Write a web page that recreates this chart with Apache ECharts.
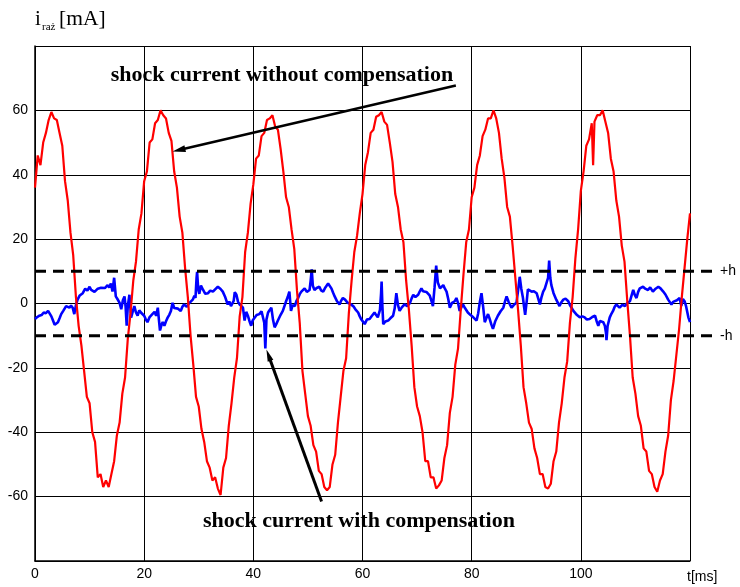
<!DOCTYPE html>
<html>
<head>
<meta charset="utf-8">
<script src="https://cdn.jsdelivr.net/npm/echarts@6/dist/echarts.min.js"></script>
<style>
html,body{margin:0;padding:0;background:#fff;}
#chart{width:740px;height:587px;}
</style>
</head>
<body>
<div id="chart"></div>
<script>
// ---- data (t in ms, current in mA) ----
const xTicks = [0, 20, 40, 60, 80, 100];
const yTicks = [-60, -40, -20, 0, 20, 40, 60];
const thresholds = [10, -10];
const thresholdLabels = ['+h', '-h'];

const redCurrent = [
[0,36],[0.5,46],[1,43],[1.5,50],[2,53],[2.5,57],[3,59.5],[3.5,57.5],[4,57],[4.5,53],[5,49],[5.5,38],[6,32],[6.5,22],[7,15],[7.5,2],[8,-7],[8.5,-13],[9,-21],[9.5,-29],
[10,-31],[10.5,-40],[11,-43],[11.5,-54],[12,-53],[12.5,-57],[13,-55],[13.5,-57],[14,-53],[14.5,-49],[15,-41],[15.5,-37],[16,-28],[16.5,-23],[17,-11],[17.5,-3],[18,7],[18.5,13],[19,23],[19.5,28],
[20,38],[20.5,41],[21,50],[21.5,51],[22,56],[22.5,57],[23,60],[23.5,58.5],[24,57.5],[24.5,53],[25,50.5],[25.5,41],[26,36],[26.5,27],[27,22],[27.5,11],[28,2],[28.5,-10],[29,-19],[29.5,-29],
[30,-32],[30.5,-39],[31,-43],[31.5,-49],[32,-51],[32.5,-55],[33,-54],[33.5,-57.5],[34,-59.5],[34.5,-51],[35,-48],[35.5,-38],[36,-31],[36.5,-23],[37,-17],[37.5,-4],[38,2],[38.5,16],[39,22],[39.5,31],
[40,37],[40.5,45],[41,46],[41.5,52],[42,53],[42.5,57],[43,57.5],[43.5,58.5],[44,55],[44.5,54],[45,48],[45.5,41],[46,33],[46.5,30],[47,23],[47.5,17],[48,4],[48.5,-6],[49,-21],[49.5,-28],
[50,-35],[50.5,-38],[51,-44],[51.5,-46],[52,-52],[52.5,-53],[53,-57],[53.5,-58],[54,-57],[54.5,-50],[55,-47],[55.5,-37],[56,-29],[56.5,-21],[57,-17],[57.5,-3],[58,7],[58.5,16],[59,21],[59.5,28],
[60,34],[60.5,43],[61,47],[61.5,53],[62,54],[62.5,58],[63,58.5],[63.5,59.5],[64,56.5],[64.5,55.5],[65,50],[65.5,44],[66,34],[66.5,30],[67,23],[67.5,19],[68,7],[68.5,-2],[69,-13],[69.5,-26],
[70,-32],[70.5,-35],[71,-40],[71.5,-49],[72,-49],[72.5,-54],[73,-54],[73.5,-57.5],[74,-56.5],[74.5,-55],[75,-48],[75.5,-44],[76,-34],[76.5,-29],[77,-19],[77.5,-14],[78,-2],[78.5,9],[79,19],[79.5,23],
[80,33],[80.5,36],[81,43],[81.5,46],[82,52],[82.5,54],[83,57.5],[83.5,57.5],[84,60],[84.5,57.5],[85,53],[85.5,45],[86,39],[86.5,30],[87,27],[87.5,18],[88,8],[88.5,-2],[89,-13],[89.5,-26],
[90,-31],[90.5,-37],[91,-39],[91.5,-45],[92,-48],[92.5,-53],[93,-53],[93.5,-57],[94,-57.5],[94.5,-56],[95,-49],[95.5,-46],[96,-37],[96.5,-31],[97,-23],[97.5,-18],[98,-6],[98.5,2],[99,14],[99.5,23],
[100,35],[100.5,41],[101,49],[101.5,51],[102,56],[102.25,43],[102.5,56.5],[103,58.5],[103.5,58.5],[104,60],[104.5,56.5],[105,53],[105.5,45],[106,41],[106.5,32],[107,27],[107.5,18],[108,13],[108.5,1],[109,-10],[109.5,-23],
[110,-28],[110.5,-35],[111,-38],[111.5,-45],[112,-46],[112.5,-52],[113,-53],[113.5,-57],[114,-58.5],[114.5,-55],[115,-53],[115.5,-46],[116,-41],[116.5,-30],[117,-24],[117.5,-16],[118,-8],[118.5,2],[119,11],[119.5,20],
[120,28]
];

const blueCurrent = [
[0,-4.8],[0.4,-4.2],[0.8,-3.8],[1.2,-3.6],[1.6,-2.8],[2,-3],[2.4,-2.3],[2.7,-2.8],[3.0,-4.0],[3.3,-5.3],[3.6,-6.6],[3.9,-6.0],[4.2,-5.8],[4.5,-4.6],[4.8,-3.3],[5.2,-2.2],[5.7,-0.8],[6.0,-0.2],[6.3,-1.3],[6.6,-0.6],
[6.9,-1.3],[7.2,-3.3],[7.5,-0.5],[7.8,1.2],[8.2,2.5],[8.75,3.2],[9.2,4.6],[9.6,4.0],[10,5.2],[10.3,4.2],[10.6,4.7],[10.9,3.6],[11.2,3.7],[11.5,4.6],[11.8,4.2],[12.1,4.9],[12.4,5.2],[12.8,4.8],[13.3,5.7],[13.6,5.0],
[13.9,6.2],[14.2,3.7],[14.5,8],[14.8,2.2],[15.1,1.4],[15.5,0.2],[15.8,-1.8],[16.1,1.0],[16.4,2.2],[16.6,-1],[16.8,-6.9],[17.0,-0.8],[17.3,2.7],[17.6,-4.4],[17.9,-2.5],[18.2,-0.8],[18.5,-2.8],[18.8,-3.8],[19.1,-2.1],[19.4,-2.8],
[19.7,-3.1],[20,-3.8],[20.3,-4.9],[20.6,-5.8],[21.0,-4.2],[21.5,-3.3],[21.9,-2.6],[22.2,-3.8],[22.5,-1.3],[22.7,-5],[22.9,-8.4],[23.2,-6.5],[23.4,-5.8],[23.7,-6.9],[24.0,-5.5],[24.3,-4.4],[24.6,-3.5],[24.9,-2.3],[25.2,0.2],[25.5,-1.4],
[25.8,-0.8],[26.2,-1.6],[26.7,-2.3],[27.0,-1.0],[27.3,-0.3],[27.8,-1.0],[28.3,0.2],[28.6,0.8],[28.9,1.2],[29.2,2.4],[29.4,1.7],[29.6,8],[29.7,9.8],[29.9,4.5],[30.1,3],[30.4,5.6],[30.8,4.2],[31.2,3.0],[31.7,3.2],[32.1,4.0],
[32.6,3.7],[33.0,4.4],[33.5,5.2],[34.0,4.5],[34.4,3.7],[34.8,2.2],[35.3,-0.3],[35.6,0.6],[35.9,-0.8],[36.4,0.8],[36.6,3.5],[36.9,2.7],[37.2,0.5],[37.5,-0.3],[37.8,-0.6],[38.1,-1.3],[38.4,-5.3],[38.7,-2.6],[39,-3.8],[39.3,-5.5],
[39.6,-6.9],[39.9,-5.2],[40.2,-4.8],[40.6,-3.6],[41.1,-3.3],[41.5,-2.4],[41.8,-1.8],[42.0,-6],[42.2,-14],[42.4,-5],[42.7,-2.8],[43.0,-2.0],[43.3,-1.3],[43.6,-5],[43.9,-7.4],[44.2,-6.4],[44.5,-5.3],[45.0,-3.5],[45.4,-2.3],[45.7,-0.8],
[46,0.7],[46.3,2.0],[46.6,3.7],[46.9,-2.3],[47.2,-0.5],[47.6,-0.8],[47.9,0.8],[48.2,1.7],[48.5,2.9],[48.8,3.7],[49.1,4.2],[49.4,4.7],[49.8,3.6],[50.3,4.2],[50.5,7],[50.7,10.6],[50.9,5.5],[51.2,4.2],[51.6,4.8],[52.1,5.2],
[52.4,4.1],[52.8,3.7],[53.2,5.0],[53.7,6.2],[54.0,5.6],[54.3,4.7],[54.6,3.4],[54.9,2.2],[55.3,0.8],[55.8,-0.3],[56.1,0.9],[56.4,1.7],[56.8,1.2],[57.3,0.2],[57.8,-0.2],[58.3,-0.8],[58.7,-1.8],[59.2,-2.8],[59.5,-4.0],[59.8,-5],
[60.1,-5.5],[60.4,-6.4],[60.8,-5.0],[61.3,-4.8],[61.7,-3.9],[62.2,-2.8],[62.5,-3.6],[62.8,-4.3],[63.2,-2.0],[63.4,3],[63.5,6.8],[63.65,-1],[63.8,-6.4],[64.2,-5.6],[64.7,-5.3],[65.1,-4.6],[65.6,-3.8],[65.9,-1.5],[66.2,3.2],[66.5,-0.5],
[66.8,-2.3],[67.2,-1.2],[67.7,-0.3],[68.2,-0.8],[68.7,0.2],[69.0,1.6],[69.3,2.7],[69.7,2.0],[70.2,2.7],[70.5,3.8],[70.8,4.7],[71.1,3.8],[71.4,3.2],[71.7,3.6],[72,4.2],[72.3,2.5],[72.6,1.0],[72.9,-0.8],[73.2,5],[73.5,11.8],
[73.8,6.5],[74.2,4.7],[74.5,5.2],[74.8,5.7],[75.1,4.6],[75.4,3.7],[75.7,1.5],[76,-1.3],[76.4,0.2],[76.9,0.7],[77.2,1.7],[77.5,0.2],[77.8,-2.3],[78.1,-1.2],[78.4,-0.3],[78.8,-1.5],[79.3,-2.8],[79.8,-3.6],[80.3,-4.3],[80.6,-4.8],
[80.9,-5.3],[81.2,-3],[81.5,0.5],[81.8,3.2],[82.1,-1],[82.4,-5.8],[82.7,-4.5],[83,-3.3],[83.3,-4.8],[83.6,-6.5],[83.9,-7.9],[84.3,-5.6],[84.8,-3.8],[85.3,-2.4],[85.8,-1.3],[86.1,0.6],[86.4,2.2],[86.8,0.4],[87.3,-1.3],[87.7,-0.5],
[88.2,0.2],[88.5,4],[88.8,8.3],[89.1,4.5],[89.4,1.7],[89.6,-1],[89.8,-3.5],[90.1,1],[90.3,4.4],[90.6,4.0],[91,3.7],[91.4,3.8],[91.9,3.2],[92.2,1.5],[92.5,-0.3],[92.8,2],[93.1,3.7],[93.4,4.6],[93.7,5.2],[94.0,8],
[94.2,13.3],[94.4,8],[94.6,5.7],[95.0,3.2],[95.5,1.2],[95.8,0.2],[96.1,-0.8],[96.4,0.3],[96.8,1.2],[97.2,1.5],[97.7,0.7],[98.0,-0.5],[98.3,-1.3],[98.6,-2.2],[98.9,-2.8],[99.3,-3.6],[99.8,-4.3],[100.3,-4.0],[100.7,-4.3],[101.1,-5.0],
[101.6,-4.8],[102.1,-4.2],[102.6,-3.8],[102.9,-5.5],[103.2,-6.9],[103.5,-5.4],[103.8,-4.8],[104.1,-5.8],[104.4,-6.9],[104.6,-9],[104.7,-11.4],[104.9,-7],[105.3,-4.3],[105.6,-3.2],[105.9,-2.3],[106.2,-1.0],[106.5,-0.3],[106.8,-0.6],[107.1,-1.3],[107.6,-0.4],
[108.1,-0.8],[108.5,0.2],[109,0.7],[109.3,2.5],[109.6,4.2],[109.9,2.6],[110.2,1.7],[110.5,3.6],[110.8,4.7],[111.1,4.5],[111.4,5.2],[111.8,4.6],[112.3,4.2],[112.7,5.0],[113.2,3.7],[113.7,4.6],[114.2,5.2],[114.6,4.7],[115.1,3.7],[115.5,2.8],
[116,1.2],[116.3,0.6],[116.6,-0.3],[116.9,0.5],[117.2,0.2],[117.6,1.0],[118.1,1.7],[118.4,-0.8],[118.7,1.4],[119,0.7],[119.3,-1.0],[119.7,-4.3],[120,-5.8]
];

// annotation arrows: [fromT, fromI] -> [toT, toI] in data units
const arrowWithout = [[77.1, 67.7], [25.2, 47.2]];
const arrowWith = [[52.5, -61.5], [42.4, -14.3]];

const chart = echarts.init(document.getElementById('chart'), null, {renderer: 'canvas'});
const axisFont = {fontFamily: 'Liberation Sans, Arial, sans-serif', fontSize: 14, color: '#000'};

chart.setOption({
  animation: false,
  backgroundColor: '#fff',
  grid: {left: 35, right: 50, top: 46, bottom: 26, containLabel: false, outerBoundsMode: 'none'},
  xAxis: {
    type: 'value', min: 0, max: 120, interval: 20,
    axisLine: {show: true, onZero: false, lineStyle: {color: '#000', width: 1.5}},
    axisTick: {show: false},
    splitLine: {show: true, lineStyle: {color: '#000', width: 1}},
    axisLabel: Object.assign({margin: 6, formatter: v => xTicks.includes(v) ? String(v) : ''}, axisFont)
  },
  yAxis: {
    type: 'value', min: -80, max: 80, interval: 20,
    axisLine: {show: true, onZero: false, lineStyle: {color: '#000', width: 1.5}},
    axisTick: {show: false},
    splitLine: {show: true, lineStyle: {color: '#000', width: 1}},
    axisLabel: Object.assign({margin: 7, formatter: v => yTicks.includes(v) ? String(v) : ''}, axisFont)
  },
  series: [
    {type: 'line', name: 'with compensation', data: blueCurrent, showSymbol: false, symbol: 'none',
     lineStyle: {color: '#0000ff', width: 2.6}, z: 3},
    {type: 'line', name: 'without compensation', data: redCurrent, showSymbol: false, symbol: 'none',
     lineStyle: {color: '#ff0000', width: 2.2}, z: 4}
  ]
});

function px(p) { return chart.convertToPixel({gridIndex: 0}, p); }
function arrow(a, width, headLen, headW) {
  const s = px(a[0]), e = px(a[1]);
  const dx = e[0] - s[0], dy = e[1] - s[1], L = Math.hypot(dx, dy);
  const ux = dx / L, uy = dy / L;
  const bx = e[0] - ux * headLen, by = e[1] - uy * headLen;
  return [
    {type: 'line', shape: {x1: s[0], y1: s[1], x2: bx + ux * 2, y2: by + uy * 2}, style: {stroke: '#000', lineWidth: width}, z: 20},
    {type: 'polygon', shape: {points: [[e[0], e[1]], [bx - uy * headW, by + ux * headW], [bx + uy * headW, by - ux * headW]]}, style: {fill: '#000'}, z: 20}
  ];
}

const g = [];
const x0 = px([0, 0])[0], xEnd = px([120, 0])[0];
thresholds.forEach((h, i) => {
  const y = px([0, h])[1];
  g.push({type: 'line', shape: {x1: x0, y1: y, x2: xEnd + 23, y2: y},
    style: {stroke: '#000', lineWidth: 3, lineDash: [11, 7]}, z: 15});
  g.push({type: 'text', x: xEnd + 30, y: y, style: {text: thresholdLabels[i], font: '14px Liberation Sans, Arial, sans-serif', fill: '#000', align: 'left', verticalAlign: 'middle'}, z: 15});
});
g.push(...arrow(arrowWithout, 2.5, 13, 3.5));
g.push(...arrow(arrowWith, 3, 12, 3));

const boldSerif = 'bold 22px Liberation Serif, Times New Roman, serif';
g.push({type: 'text', x: 282, y: 75, style: {text: 'shock current without compensation', font: boldSerif, fill: '#000', align: 'center', verticalAlign: 'middle'}, z: 25});
g.push({type: 'text', x: 359, y: 521, style: {text: 'shock current with compensation', font: boldSerif, fill: '#000', align: 'center', verticalAlign: 'middle'}, z: 25});

// axis titles
const serif = 'Liberation Serif, Times New Roman, serif';
g.push({type: 'text', x: 35, y: 19, style: {text: 'i', font: '21px ' + serif, fill: '#000', align: 'left', verticalAlign: 'middle'}});
g.push({type: 'text', x: 42, y: 27, style: {text: 'raż', font: '11px ' + serif, fill: '#000', align: 'left', verticalAlign: 'middle'}});
g.push({type: 'text', x: 59, y: 19, style: {text: '[mA]', font: '21.5px ' + serif, fill: '#000', align: 'left', verticalAlign: 'middle'}});
g.push({type: 'text', x: xEnd - 3, y: 577, style: {text: 't[ms]', font: '14px Liberation Sans, Arial, sans-serif', fill: '#000', align: 'left', verticalAlign: 'middle'}});

chart.setOption({graphic: g});
</script>
</body>
</html>
